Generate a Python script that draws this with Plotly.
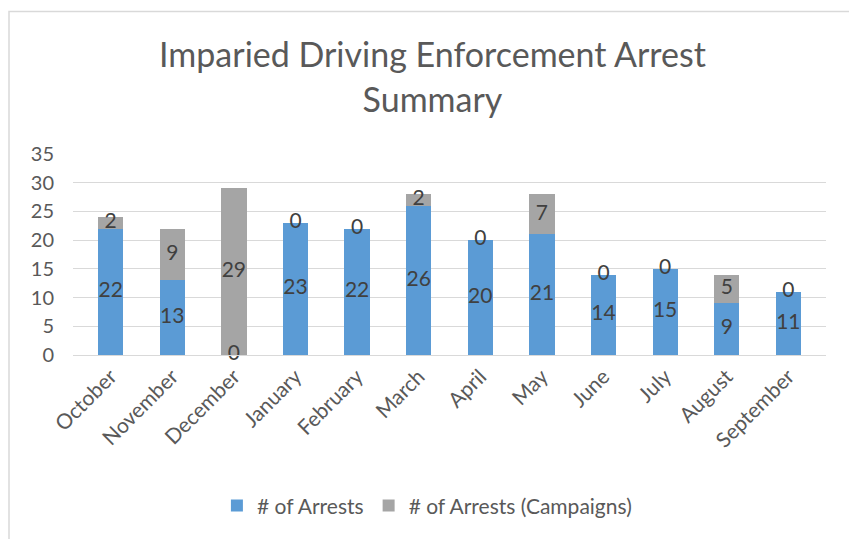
import plotly.graph_objects as go

months = ["October", "November", "December", "January", "February", "March",
          "April", "May", "June", "July", "August", "September"]
arrests = [22, 13, 0, 23, 22, 26, 20, 21, 14, 15, 9, 11]
campaign_arrests = [2, 9, 29, 0, 0, 2, 0, 7, 0, 0, 5, 0]

BLUE = "#5B9BD5"
GRAY = "#A5A5A5"
FONT = "Lato, Open Sans, sans-serif"

fig = go.Figure()
fig.add_trace(go.Bar(x=months, y=arrests, name="# of Arrests",
                     marker=dict(color=BLUE, line=dict(width=0))))
fig.add_trace(go.Bar(x=months, y=campaign_arrests, name="# of Arrests (Campaigns)",
                     marker=dict(color=GRAY, line=dict(width=0))))

# data labels centred on each segment
mid_blue = [a / 2 for a in arrests]
mid_gray = [a + c / 2 for a, c in zip(arrests, campaign_arrests)]
for mids, vals in ((mid_blue, arrests), (mid_gray, campaign_arrests)):
    fig.add_trace(go.Scatter(x=months, y=mids, text=[str(v) for v in vals],
                             mode="text", textposition="middle center",
                             textfont=dict(size=21, color="#404040", family=FONT),
                             showlegend=False, hoverinfo="skip", cliponaxis=False))

# page body adds an 8px offset, so the figure is sized 8px smaller
fig.update_layout(
    width=849, height=531,
    barmode="stack", bargap=0.59,
    paper_bgcolor="white", plot_bgcolor="white",
    font=dict(family=FONT, color="#595959", size=20),
    margin=dict(l=65, r=31, t=146, b=176),
    title=dict(text="Imparied Driving Enforcement Arrest<br>Summary",
               xref="container", x=0.5, xanchor="center",
               yref="container", y=0.888, yanchor="middle",
               font=dict(size=34, color="#595959", family=FONT)),
    xaxis=dict(tickangle=-45, showgrid=False, showline=True, linecolor="#D9D9D9",
               linewidth=1, ticks="", tickfont=dict(size=21, color="#595959")),
    yaxis=dict(range=[0, 35], dtick=5, showgrid=True, gridcolor="#D9D9D9",
               gridwidth=1, zeroline=False, ticks="", ticklabelstandoff=18,
               tickfont=dict(size=20, color="#595959")),
    legend=dict(orientation="h", x=0.47, xanchor="center", y=-0.75, yanchor="middle",
                traceorder="normal", font=dict(size=21, color="#595959"), itemwidth=30),
    shapes=[dict(type="rect", xref="paper", yref="paper",
                 x0=-0.085, x1=1.036, y0=-0.95, y1=1.709,
                 line=dict(color="#D9D9D9", width=1.5), layer="below")],
)

fig.write_html("out.html")
